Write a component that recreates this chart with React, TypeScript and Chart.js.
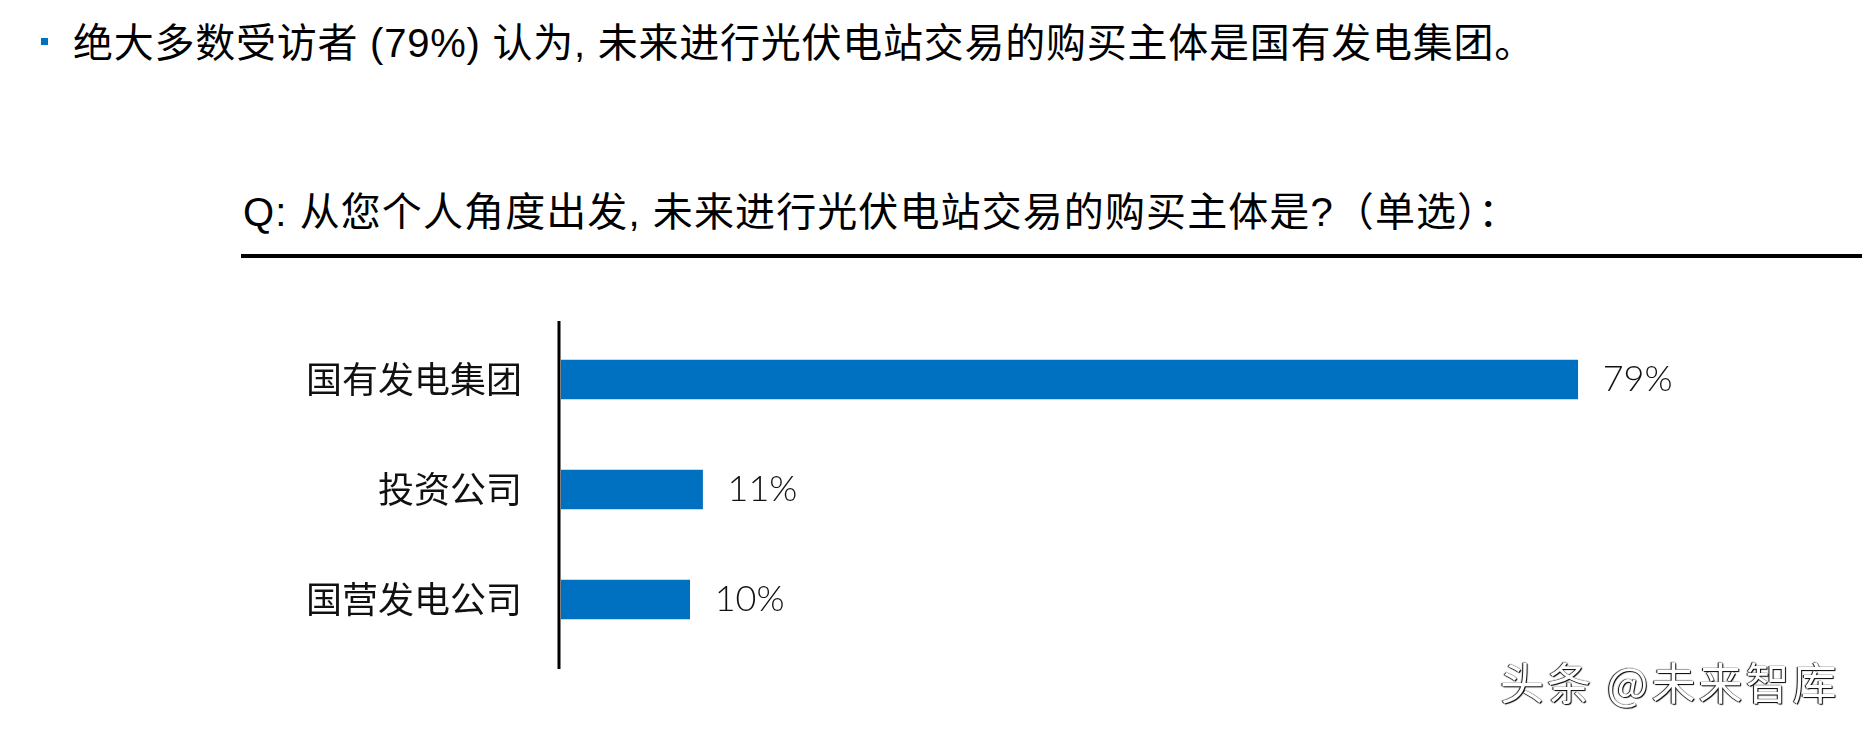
import React, { useEffect, useRef } from 'react';
import { Chart, registerables } from 'chart.js';

Chart.register(...registerables);

const headline = '绝大多数受访者 (79%) 认为, 未来进行光伏电站交易的购买主体是国有发电集团。';
const question = 'Q: 从您个人角度出发, 未来进行光伏电站交易的购买主体是?（单选）：';
const categories = ['国有发电集团', '投资公司', '国营发电公司'];
const values = [79, 11, 10];
const valueSuffix = '%';
const xMax = 100;
const watermark = '头条 @未来智库';

const BLUE = '#0070c0';
const LATIN = '"Liberation Sans", "Noto Sans CJK SC", sans-serif';

const overlayPlugin = {
  id: 'overlay',
  afterDatasetsDraw(chart: any) {
    const { ctx, chartArea } = chart;
    const meta = chart.getDatasetMeta(0);
    ctx.save();
    // vertical axis line
    ctx.fillStyle = '#000';
    ctx.fillRect(chartArea.left - 3.5, chartArea.top - 3.5, 3, chartArea.bottom - chartArea.top + 18);
    // value labels
    ctx.font = '300 36px Lato, "Liberation Sans", sans-serif';
    ctx.textBaseline = 'middle';
    ctx.textAlign = 'left';
    ctx.fillStyle = '#111';
    meta.data.forEach((bar: any, i: number) => {
      ctx.fillText(values[i] + valueSuffix, bar.x + 25, bar.y);
    });
    ctx.restore();
  },
};

function BarChart() {
  const ref = useRef<HTMLCanvasElement | null>(null);
  useEffect(() => {
    if (!ref.current) return;
    const chart = new Chart(ref.current, {
      type: 'bar',
      data: {
        labels: categories,
        datasets: [
          {
            data: values,
            backgroundColor: BLUE,
            borderWidth: 0,
            barThickness: 39,
          },
        ],
      },
      options: {
        indexAxis: 'y',
        animation: false,
        responsive: false,
        devicePixelRatio: 1,
        layout: { padding: { left: 0, right: 14, top: 44.5, bottom: 55.5 } },
        plugins: { legend: { display: false }, tooltip: { enabled: false } },
        scales: {
          x: { display: false, min: 0, max: xMax },
          y: {
            afterFit: (scale: any) => {
              scale.width = 561;
              scale.paddingTop = 0;
              scale.paddingBottom = 0;
            },
            grid: { display: false, drawTicks: false },
            border: { display: false },
            ticks: {
              padding: 39,
              color: '#111',
              font: { family: '"Noto Sans CJK SC", sans-serif', size: 36, weight: 'normal' },
            },
          },
        },
      },
      plugins: [overlayPlugin],
    } as any);
    return () => chart.destroy();
  }, []);
  return (
    <canvas
      ref={ref}
      width={1862}
      height={430}
      style={{ position: 'absolute', left: 0, top: 280, width: 1862, height: 430 }}
    />
  );
}

export default function App() {
  return (
    <div
      style={{
        position: 'absolute',
        left: 0,
        top: 0,
        width: 1862,
        height: 730,
        overflow: 'hidden',
        background: '#fff',
        fontFamily: LATIN,
        color: '#000',
      }}
    >
      <div style={{ position: 'absolute', left: 41, top: 38, width: 7, height: 7, background: BLUE }} />
      <div
        style={{
          position: 'absolute',
          left: 73,
          top: 23,
          fontSize: 40,
          lineHeight: '40px',
          letterSpacing: '0.75px',
          whiteSpace: 'nowrap',
        }}
      >
        {headline}
      </div>
      <div
        style={{
          position: 'absolute',
          left: 243,
          top: 192,
          fontSize: 40,
          lineHeight: '40px',
          letterSpacing: '1.1px',
          whiteSpace: 'nowrap',
        }}
      >
        {question}
      </div>
      <div style={{ position: 'absolute', left: 241, top: 254, width: 1621, height: 4, background: '#000' }} />
      <BarChart />
      <div
        style={{
          position: 'absolute',
          left: 1500,
          top: 658,
          fontSize: 44,
          lineHeight: '46px',
          letterSpacing: '3px',
          whiteSpace: 'nowrap',
          fontFamily: '"Noto Sans CJK SC", sans-serif',
          color: '#fff',
          textShadow: '0 0 1px #000, 1px 1px 1px #000, -1px 0 1px #000',
        }}
      >
        {watermark}
      </div>
    </div>
  );
}
